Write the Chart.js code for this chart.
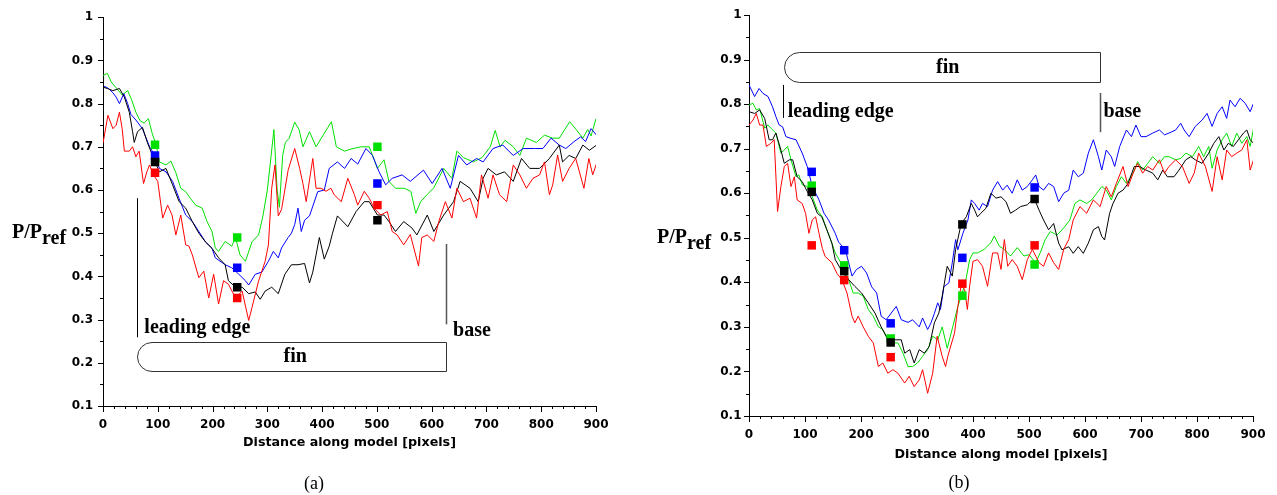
<!DOCTYPE html>
<html>
<head>
<meta charset="utf-8">
<script src="https://cdn.jsdelivr.net/npm/chart.js@4.4.1/dist/chart.umd.min.js"></script>
<style>
  body { margin: 0; background: #fff; width: 1277px; height: 495px; overflow: hidden; position: relative; }
  canvas { position: absolute; top: 0; }
</style>
</head>
<body>
<canvas id="chartA" width="620" height="495" style="left:0"></canvas>
<canvas id="chartB" width="637" height="495" style="left:640px"></canvas>
<script>
// axis ticks
const xTicks = [0, 100, 200, 300, 400, 500, 600, 700, 800, 900];
const yTicks = [0.1, 0.2, 0.3, 0.4, 0.5, 0.6, 0.7, 0.8, 0.9, 1];

// ---- panel (a) : [distance, P/Pref] ----
const aGreen = [[0,0.865],[8,0.87],[15,0.85],[25,0.835],[35,0.82],[45,0.83],[52,0.81],[60,0.78],[68,0.76],[75,0.755],[83,0.765],[90,0.73],[97,0.705],[103,0.665],[115,0.658],[124,0.667],[133,0.64],[142,0.604],[151,0.596],[160,0.58],[169,0.565],[181,0.558],[190,0.527],[199,0.504],[205,0.466],[211,0.458],[223,0.481],[235,0.47],[242,0.49],[250,0.45],[260,0.435],[272,0.48],[284,0.496],[292,0.54],[300,0.6],[307,0.68],[312,0.74],[318,0.6],[322,0.56],[328,0.68],[333,0.71],[340,0.72],[350,0.757],[358,0.74],[365,0.70],[377,0.735],[389,0.70],[402,0.727],[417,0.758],[426,0.70],[441,0.69],[453,0.695],[471,0.70],[486,0.70],[501,0.65],[513,0.67],[522,0.62],[534,0.604],[550,0.604],[562,0.597],[571,0.546],[580,0.573],[592,0.59],[604,0.605],[622,0.65],[637,0.627],[646,0.69],[658,0.675],[676,0.665],[692,0.675],[707,0.70],[716,0.738],[725,0.70],[734,0.715],[749,0.70],[761,0.68],[773,0.72],[791,0.71],[806,0.727],[821,0.72],[833,0.72],[852,0.758],[864,0.74],[876,0.72],[885,0.74],[891,0.725],[900,0.765]];
const aBlue = [[0,0.835],[3,0.84],[10,0.835],[18,0.825],[24,0.815],[30,0.80],[38,0.823],[45,0.80],[51,0.775],[60,0.762],[72,0.742],[85,0.70],[95,0.68],[103,0.65],[115,0.642],[127,0.62],[139,0.58],[151,0.542],[163,0.527],[175,0.504],[187,0.48],[199,0.465],[205,0.443],[223,0.427],[235,0.42],[248,0.405],[260,0.39],[266,0.38],[278,0.405],[290,0.41],[302,0.435],[311,0.458],[320,0.443],[326,0.466],[338,0.49],[344,0.5],[350,0.52],[356,0.558],[362,0.504],[368,0.53],[377,0.54],[392,0.596],[404,0.60],[413,0.65],[428,0.665],[441,0.65],[453,0.673],[465,0.66],[480,0.696],[492,0.68],[504,0.642],[516,0.612],[528,0.627],[546,0.635],[561,0.62],[585,0.646],[601,0.615],[619,0.65],[634,0.604],[649,0.68],[664,0.658],[682,0.673],[694,0.665],[712,0.696],[730,0.704],[749,0.68],[767,0.696],[788,0.696],[803,0.696],[818,0.72],[833,0.704],[845,0.696],[860,0.712],[872,0.723],[881,0.712],[891,0.742],[901,0.727]];
const aBlack = [[0,0.838],[8,0.835],[18,0.83],[30,0.835],[39,0.815],[48,0.78],[54,0.735],[57,0.71],[63,0.735],[72,0.745],[81,0.71],[95,0.665],[103,0.642],[115,0.65],[127,0.612],[139,0.573],[151,0.558],[163,0.527],[175,0.50],[187,0.48],[199,0.465],[211,0.443],[223,0.427],[229,0.39],[242,0.375],[254,0.375],[266,0.36],[278,0.364],[287,0.347],[296,0.366],[308,0.375],[320,0.36],[332,0.405],[344,0.427],[356,0.427],[368,0.43],[377,0.385],[383,0.41],[395,0.49],[404,0.44],[413,0.47],[419,0.50],[428,0.54],[447,0.515],[462,0.55],[477,0.573],[486,0.573],[501,0.542],[513,0.542],[522,0.527],[534,0.504],[549,0.527],[564,0.512],[573,0.496],[592,0.542],[604,0.504],[622,0.542],[640,0.573],[652,0.62],[670,0.604],[685,0.573],[694,0.627],[703,0.65],[718,0.635],[733,0.642],[749,0.62],[764,0.673],[779,0.65],[797,0.65],[815,0.673],[833,0.704],[839,0.665],[851,0.68],[863,0.673],[876,0.704],[888,0.692],[901,0.704]];
const aRed = [[0,0.708],[9,0.773],[18,0.742],[24,0.75],[30,0.78],[35,0.742],[39,0.69],[48,0.69],[54,0.70],[60,0.677],[66,0.69],[74,0.615],[80,0.642],[85,0.658],[92,0.635],[100,0.62],[109,0.535],[118,0.565],[126,0.542],[133,0.496],[142,0.542],[151,0.473],[157,0.47],[163,0.45],[175,0.397],[184,0.412],[193,0.35],[202,0.405],[211,0.336],[220,0.39],[229,0.382],[242,0.35],[254,0.366],[266,0.298],[272,0.328],[284,0.389],[296,0.435],[302,0.473],[308,0.604],[314,0.658],[320,0.54],[326,0.555],[338,0.646],[350,0.696],[359,0.65],[365,0.615],[371,0.573],[383,0.673],[389,0.604],[398,0.604],[407,0.597],[416,0.604],[422,0.589],[435,0.573],[447,0.627],[459,0.589],[465,0.565],[477,0.597],[486,0.581],[495,0.558],[507,0.542],[519,0.55],[528,0.504],[537,0.496],[549,0.473],[561,0.497],[576,0.424],[582,0.49],[592,0.496],[604,0.481],[613,0.527],[625,0.573],[637,0.535],[646,0.604],[658,0.573],[670,0.581],[682,0.535],[691,0.635],[703,0.581],[712,0.635],[724,0.589],[737,0.573],[749,0.658],[761,0.635],[773,0.604],[785,0.627],[797,0.635],[806,0.665],[815,0.589],[821,0.612],[830,0.681],[839,0.62],[851,0.65],[863,0.673],[878,0.604],[887,0.673],[894,0.635],[901,0.661]];
// square markers of panel (a)
const aMarkX = [95, 245, 501];
const aMarkGreen = [0.705, 0.49, 0.70];
const aMarkBlue = [0.68, 0.42, 0.615];
const aMarkBlack = [0.665, 0.375, 0.53];
const aMarkRed = [0.64, 0.35, 0.565];

// ---- panel (b) ----
const bBlue = [[0,0.843],[10,0.817],[18,0.835],[25,0.824],[34,0.817],[42,0.794],[48,0.772],[54,0.753],[60,0.749],[66,0.727],[75,0.723],[84,0.72],[95,0.69],[104,0.66],[113,0.615],[125,0.585],[134,0.555],[142,0.54],[154,0.51],[160,0.49],[172,0.474],[184,0.414],[192,0.429],[201,0.436],[210,0.421],[219,0.39],[228,0.376],[236,0.324],[245,0.316],[254,0.331],[263,0.346],[272,0.316],[284,0.31],[292,0.316],[304,0.30],[310,0.32],[319,0.294],[325,0.309],[331,0.33],[337,0.354],[342,0.339],[348,0.39],[357,0.399],[363,0.444],[369,0.496],[373,0.473],[382,0.51],[391,0.54],[397,0.585],[403,0.577],[411,0.562],[417,0.577],[426,0.57],[435,0.607],[444,0.626],[453,0.607],[461,0.618],[470,0.6],[479,0.63],[488,0.607],[497,0.615],[506,0.63],[512,0.641],[518,0.615],[526,0.607],[535,0.622],[544,0.615],[553,0.581],[562,0.6],[571,0.607],[579,0.652],[588,0.637],[597,0.645],[606,0.69],[615,0.72],[624,0.682],[630,0.652],[638,0.697],[647,0.682],[653,0.66],[662,0.705],[674,0.742],[683,0.727],[691,0.753],[700,0.727],[709,0.727],[721,0.735],[733,0.742],[742,0.731],[750,0.735],[762,0.742],[771,0.757],[777,0.742],[786,0.727],[797,0.75],[809,0.764],[818,0.779],[827,0.75],[836,0.779],[845,0.794],[853,0.768],[859,0.809],[868,0.794],[877,0.813],[886,0.802],[895,0.783],[901,0.802]];
const bBlack = [[0,0.783],[10,0.779],[19,0.787],[28,0.768],[36,0.72],[42,0.72],[48,0.735],[57,0.697],[63,0.667],[72,0.675],[78,0.675],[86,0.637],[95,0.626],[104,0.604],[113,0.585],[122,0.555],[130,0.547],[139,0.518],[148,0.488],[154,0.451],[166,0.425],[178,0.406],[189,0.391],[201,0.376],[213,0.354],[225,0.331],[236,0.30],[245,0.279],[251,0.26],[260,0.271],[272,0.271],[278,0.241],[287,0.249],[295,0.219],[304,0.249],[313,0.241],[322,0.256],[331,0.309],[339,0.331],[345,0.369],[354,0.436],[363,0.414],[369,0.474],[379,0.532],[388,0.547],[397,0.577],[403,0.562],[408,0.547],[414,0.555],[423,0.566],[432,0.60],[441,0.589],[450,0.592],[459,0.581],[467,0.555],[476,0.562],[485,0.57],[497,0.574],[509,0.589],[518,0.562],[526,0.54],[535,0.518],[544,0.532],[553,0.488],[559,0.473],[571,0.48],[579,0.465],[588,0.48],[597,0.465],[606,0.488],[615,0.518],[624,0.525],[630,0.503],[635,0.495],[644,0.555],[650,0.577],[659,0.6],[668,0.607],[677,0.622],[688,0.66],[697,0.66],[709,0.652],[721,0.645],[730,0.63],[739,0.652],[747,0.637],[759,0.637],[768,0.652],[780,0.675],[789,0.682],[797,0.675],[809,0.667],[821,0.69],[830,0.712],[839,0.727],[848,0.697],[856,0.712],[865,0.705],[874,0.72],[883,0.735],[889,0.742],[895,0.72],[901,0.712]];
const bGreen = [[0,0.798],[7,0.802],[13,0.787],[19,0.79],[28,0.746],[34,0.753],[39,0.746],[48,0.735],[57,0.69],[63,0.697],[69,0.705],[75,0.675],[84,0.637],[89,0.641],[95,0.619],[104,0.615],[113,0.592],[122,0.562],[131,0.547],[139,0.518],[148,0.488],[154,0.466],[166,0.44],[178,0.406],[186,0.376],[195,0.376],[204,0.369],[213,0.339],[222,0.324],[231,0.30],[239,0.294],[248,0.271],[257,0.264],[266,0.264],[275,0.241],[284,0.211],[292,0.211],[301,0.219],[310,0.234],[319,0.249],[328,0.279],[337,0.271],[345,0.30],[354,0.252],[364,0.301],[373,0.346],[380,0.372],[388,0.41],[394,0.451],[400,0.466],[408,0.466],[420,0.474],[432,0.489],[438,0.504],[447,0.481],[456,0.474],[467,0.459],[479,0.478],[491,0.459],[500,0.462],[512,0.444],[520,0.466],[529,0.496],[538,0.514],[550,0.506],[562,0.522],[573,0.54],[582,0.577],[591,0.585],[603,0.577],[612,0.585],[621,0.60],[630,0.615],[638,0.607],[647,0.585],[656,0.615],[665,0.637],[674,0.622],[686,0.645],[694,0.671],[703,0.652],[712,0.667],[721,0.682],[733,0.667],[742,0.682],[750,0.682],[762,0.675],[771,0.678],[780,0.69],[792,0.682],[803,0.705],[812,0.682],[821,0.705],[827,0.656],[836,0.697],[845,0.72],[853,0.735],[862,0.705],[871,0.735],[880,0.712],[889,0.727],[895,0.705],[901,0.746]];
const bRed = [[0,0.753],[7,0.764],[13,0.779],[19,0.753],[25,0.753],[31,0.705],[39,0.712],[45,0.72],[51,0.559],[57,0.615],[63,0.66],[69,0.667],[75,0.615],[81,0.637],[86,0.585],[95,0.577],[101,0.555],[107,0.51],[113,0.54],[119,0.547],[125,0.51],[131,0.476],[136,0.458],[148,0.444],[157,0.42],[166,0.406],[175,0.376],[184,0.324],[189,0.309],[195,0.324],[204,0.30],[213,0.279],[222,0.264],[231,0.211],[239,0.219],[248,0.196],[257,0.204],[266,0.196],[278,0.174],[286,0.189],[295,0.166],[304,0.181],[310,0.204],[319,0.151],[328,0.196],[336,0.279],[345,0.234],[351,0.211],[355,0.234],[367,0.286],[373,0.346],[379,0.395],[385,0.384],[390,0.339],[394,0.391],[400,0.447],[408,0.451],[417,0.436],[426,0.391],[435,0.466],[444,0.466],[450,0.429],[456,0.496],[462,0.436],[470,0.451],[479,0.436],[488,0.406],[497,0.451],[506,0.474],[518,0.444],[526,0.436],[535,0.466],[544,0.444],[553,0.429],[562,0.474],[571,0.496],[579,0.54],[591,0.57],[603,0.555],[615,0.585],[627,0.57],[638,0.615],[647,0.592],[656,0.622],[668,0.66],[677,0.615],[686,0.645],[694,0.667],[703,0.645],[712,0.66],[721,0.652],[733,0.675],[742,0.645],[750,0.66],[762,0.675],[774,0.66],[786,0.622],[795,0.645],[803,0.69],[815,0.66],[827,0.604],[836,0.682],[845,0.63],[853,0.697],[862,0.682],[871,0.69],[880,0.697],[889,0.72],[895,0.652],[901,0.675]];
// square markers of panel (b)
const bMarkX = [112, 170, 253, 381, 510];
const bMarkBlue = [0.648, 0.472, 0.308, 0.455, 0.613];
const bMarkGreen = [0.617, 0.438, 0.274, 0.37, 0.44];
const bMarkBlack = [0.603, 0.425, 0.265, 0.53, 0.587];
const bMarkRed = [0.483, 0.405, 0.232, 0.397, 0.483];

const COL = { black: '#000000', red: '#ff0000', green: '#00e000', blue: '#0000ff' };
const SERIF = '"Liberation Serif", "Times New Roman", serif';
const SANS = '"DejaVu Sans", sans-serif';

// axis tick marks, fin sketch, labels
const deco = {
  id: 'deco',
  afterDraw(chart, args, o) {
    const { ctx, scales: { x, y } } = chart;
    ctx.save();
    ctx.strokeStyle = '#000';
    ctx.lineWidth = 1;
    ctx.beginPath();
    for (let v = 0; v <= 900; v += 20) {
      const px = Math.round(x.getPixelForValue(v)) + 0.5;
      ctx.moveTo(px, y.bottom);
      ctx.lineTo(px, y.bottom + (v % 100 === 0 ? 6 : 3));
    }
    for (let i = 2; i <= 20; i++) {
      const py = Math.round(y.getPixelForValue(i * 0.05)) + 0.5;
      ctx.moveTo(x.left - (i % 2 === 0 ? 5 : 3), py);
      ctx.lineTo(x.left, py);
    }
    ctx.stroke();

    const X = v => x.getPixelForValue(v), Y = v => y.getPixelForValue(v);

    // fin outline
    const [f0, f1, ft, fb] = o.fin;
    const l = Math.round(X(f0)) + 0.5, r = Math.round(X(f1)) + 0.5;
    const t = Math.round(Y(ft)) + 0.5, b = Math.round(Y(fb)) + 0.5;
    const rad = (b - t) / 2;
    ctx.strokeStyle = '#333';
    ctx.beginPath();
    ctx.moveTo(r, t);
    ctx.lineTo(l + rad, t);
    ctx.arc(l + rad, t + rad, rad, -Math.PI / 2, Math.PI / 2, true);
    ctx.lineTo(r, b);
    ctx.closePath();
    ctx.stroke();

    // leading edge and base markers
    ctx.beginPath();
    ctx.strokeStyle = '#000';
    const lx = Math.round(X(o.lead[0])) + 0.5;
    ctx.moveTo(lx, Y(o.lead[1])); ctx.lineTo(lx, Y(o.lead[2]));
    ctx.stroke();
    ctx.beginPath();
    ctx.strokeStyle = '#555';
    ctx.lineWidth = 1.5;
    const bx = Math.round(X(o.base[0])) + 0.5;
    ctx.moveTo(bx, Y(o.base[1])); ctx.lineTo(bx, Y(o.base[2]));
    ctx.stroke();

    ctx.fillStyle = '#000';
    ctx.textBaseline = 'alphabetic';
    ctx.font = 'bold 20px ' + SERIF;
    for (const [txt, vx, vy, al] of o.labels) {
      ctx.textAlign = al || 'left';
      ctx.fillText(txt, X(vx), Y(vy));
    }

    // y axis label P/Pref
    ctx.textAlign = 'left';
    const yb = Y(0.5) + 5;
    ctx.fillText('P/P', o.yLabelX, yb);
    ctx.fillText('ref', o.yLabelX + ctx.measureText('P/P').width, yb + 6);

    // caption
    ctx.font = '18px ' + SERIF;
    ctx.textAlign = 'center';
    ctx.fillText(o.caption, o.captionX, o.captionY);
    ctx.restore();
  }
};

function pts(arr) { return arr.map(p => ({ x: p[0], y: p[1] })); }
function marks(xs, ys) { return xs.map((v, i) => ({ x: v, y: ys[i] })); }

function lineSet(data, color) {
  return { data: pts(data), showLine: true, borderColor: color, borderWidth: 1, pointRadius: 0, tension: 0, order: 2 };
}
function markSet(data, color) {
  return { data: data, showLine: false, pointStyle: 'rect', pointRadius: 6, backgroundColor: color, borderWidth: 0, order: 1 };
}

function makeChart(id, datasets, c) {
  return new Chart(document.getElementById(id), {
    type: 'scatter',
    data: { datasets: datasets },
    options: {
      responsive: false,
      animation: false,
      devicePixelRatio: 1,
      layout: { padding: { top: 15, right: c.padRight, left: 0, bottom: 0 } },
      plugins: { legend: { display: false }, tooltip: { enabled: false }, deco: c.deco },
      scales: {
        x: {
          type: 'linear', min: 0, max: 900,
          afterBuildTicks: s => { s.ticks = xTicks.map(v => ({ value: v })); },
          afterFit: s => { s.height = c.xHeight; },
          grid: { display: true, drawOnChartArea: false, drawTicks: false },
          border: { display: true, color: '#000', width: 1 },
          ticks: { color: '#000', padding: 11.5, maxRotation: 0, font: { family: SANS, size: 12, weight: 'bold' } },
          title: { display: true, text: 'Distance along model [pixels]', color: '#000',
                   padding: { top: 0, bottom: c.titlePad }, font: { family: SANS, size: 12.7, weight: 'bold' } }
        },
        y: {
          type: 'linear', min: 0.1, max: 1,
          afterBuildTicks: s => { s.ticks = yTicks.map(v => ({ value: v })); },
          afterFit: s => { s.width = c.yWidth; },
          grid: { display: true, drawOnChartArea: false, drawTicks: false },
          border: { display: true, color: '#000', width: 1 },
          ticks: { color: '#000', padding: c.yPad, callback: v => String(+v.toFixed(1)),
                   font: { family: SANS, size: 12, weight: 'bold' } }
        }
      }
    },
    plugins: [deco]
  });
}

makeChart('chartA', [
  markSet(marks(aMarkX, aMarkRed), COL.red),
  markSet(marks(aMarkX, aMarkBlack), COL.black),
  markSet(marks(aMarkX, aMarkBlue), COL.blue),
  markSet(marks(aMarkX, aMarkGreen), COL.green),
  lineSet(aRed, COL.red),
  lineSet(aBlack, COL.black),
  lineSet(aBlue, COL.blue),
  lineSet(aGreen, COL.green)
], {
  padRight: 20, xHeight: 89, yWidth: 103, yPad: 10, titlePad: 44.4,
  deco: {
    fin: [61.6, 626, 0.247, 0.18],
    lead: [61.6, 0.581, 0.259],
    base: [626, 0.475, 0.289],
    labels: [['leading edge', 75.5, 0.268], ['fin', 351, 0.203, 'center'], ['base', 639, 0.261]],
    yLabelX: 12, caption: '(a)', captionX: 314, captionY: 489
  }
});

makeChart('chartB', [
  markSet(marks(bMarkX, bMarkRed), COL.red),
  markSet(marks(bMarkX, bMarkBlack), COL.black),
  markSet(marks(bMarkX, bMarkGreen), COL.green),
  markSet(marks(bMarkX, bMarkBlue), COL.blue),
  lineSet(bRed, COL.red),
  lineSet(bBlack, COL.black),
  lineSet(bGreen, COL.green),
  lineSet(bBlue, COL.blue)
], {
  padRight: 19, xHeight: 79, yWidth: 109, yPad: 7.5, titlePad: 32.4,
  deco: {
    fin: [62, 626, 0.917, 0.85],
    lead: [60, 0.843, 0.769],
    base: [626, 0.825, 0.737],
    labels: [['leading edge', 69, 0.771], ['fin', 355, 0.870, 'center'], ['base', 633, 0.771]],
    yLabelX: 17, caption: '(b)', captionX: 319, captionY: 488
  }
});
</script>
</body>
</html>
